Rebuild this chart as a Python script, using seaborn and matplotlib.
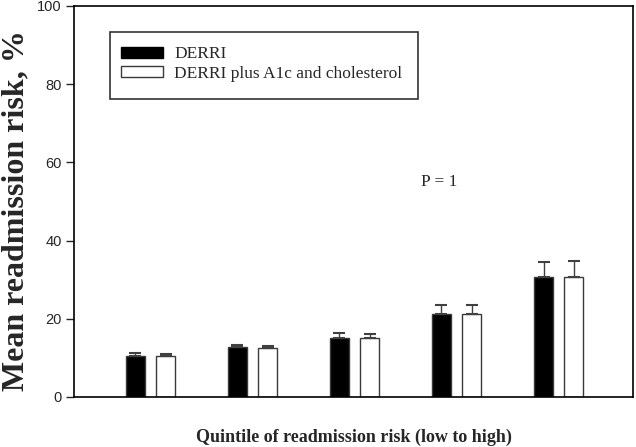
import matplotlib
matplotlib.use("Agg")
import matplotlib.pyplot as plt
from matplotlib.patches import Rectangle
import numpy as np
import pandas as pd
import seaborn as sns

quintiles = ["1", "2", "3", "4", "5"]
models = ["DERRI", "DERRI plus A1c and cholesterol"]
derri_mean = [10.6, 12.7, 15.2, 21.3, 30.6]
derri_err = [0.6, 0.5, 1.1, 2.3, 3.9]
full_mean = [10.4, 12.5, 15.1, 21.2, 30.6]
full_err = [0.6, 0.6, 1.1, 2.4, 4.1]
y_ticks = [0, 20, 40, 60, 80, 100]

sns.set_style("ticks")
serif = ["Liberation Serif", "DejaVu Serif"]
sans = ["Liberation Sans", "DejaVu Sans"]

df = pd.DataFrame({
    "quintile": quintiles * 2,
    "model": [models[0]] * 5 + [models[1]] * 5,
    "risk": derri_mean + full_mean,
})
errs = derri_err + full_err

fig = plt.figure(figsize=(6.36, 4.47), dpi=100)
ax = fig.add_axes([0.1164, 0.1119, 0.8789, 0.8747])

sns.barplot(data=df, x="quintile", y="risk", hue="model", ax=ax,
            palette=["black", "white"], width=0.59, gap=0.35,
            edgecolor="#3a3a3a", linewidth=1.0, errorbar=None)

# upward-only error bars on top of each bar
bars = [p for p in ax.patches if p.get_height() > 0][:10]
xs = [p.get_x() + p.get_width() / 2 for p in bars]
hs = [p.get_height() for p in bars]
ax.errorbar(xs, hs, yerr=[np.zeros(len(hs)), errs], fmt="none",
            ecolor="#404040", elinewidth=1.0, capsize=4.5, capthick=1.5)

ax.set_ylim(0, 100)
ax.set_xlim(-0.75, 4.73)
ax.set_yticks(y_ticks)
ax.set_yticklabels([str(t) for t in y_ticks], family=sans, fontsize=10.5)
ax.set_xticks([])
ax.tick_params(axis="y", direction="out", length=6, width=1, pad=3)
for s in ax.spines.values():
    s.set_visible(True)
    s.set_color("black")
    s.set_linewidth(1.2)

ax.set_xlabel("Quintile of readmission risk (low to high)", family=serif,
              fontweight="bold", fontsize=13, labelpad=23)
ax.set_ylabel("Mean readmission risk, %", family=serif, fontweight="bold",
              fontsize=23)
ax.yaxis.set_label_coords(-0.078, 0.476)

ax.text(2.83, 54.9, "P = 1", family=serif, fontsize=12.5,
        ha="center", va="center")

leg = ax.legend(loc="upper left", bbox_to_anchor=(0.0833, 0.8964),
                borderaxespad=0, borderpad=0, frameon=False,
                handlelength=2.47, handleheight=0.6,
                handletextpad=0.63, labelspacing=0.2,
                prop={"family": serif, "size": 12.5})
leg.legend_handles[0].set_edgecolor("black")
# legend frame
ax.add_patch(Rectangle((0.0645, 0.762), 0.550, 0.171, transform=ax.transAxes,
                       fill=False, edgecolor="#333333", linewidth=1.2))

fig.savefig("out.png", dpi=100)
